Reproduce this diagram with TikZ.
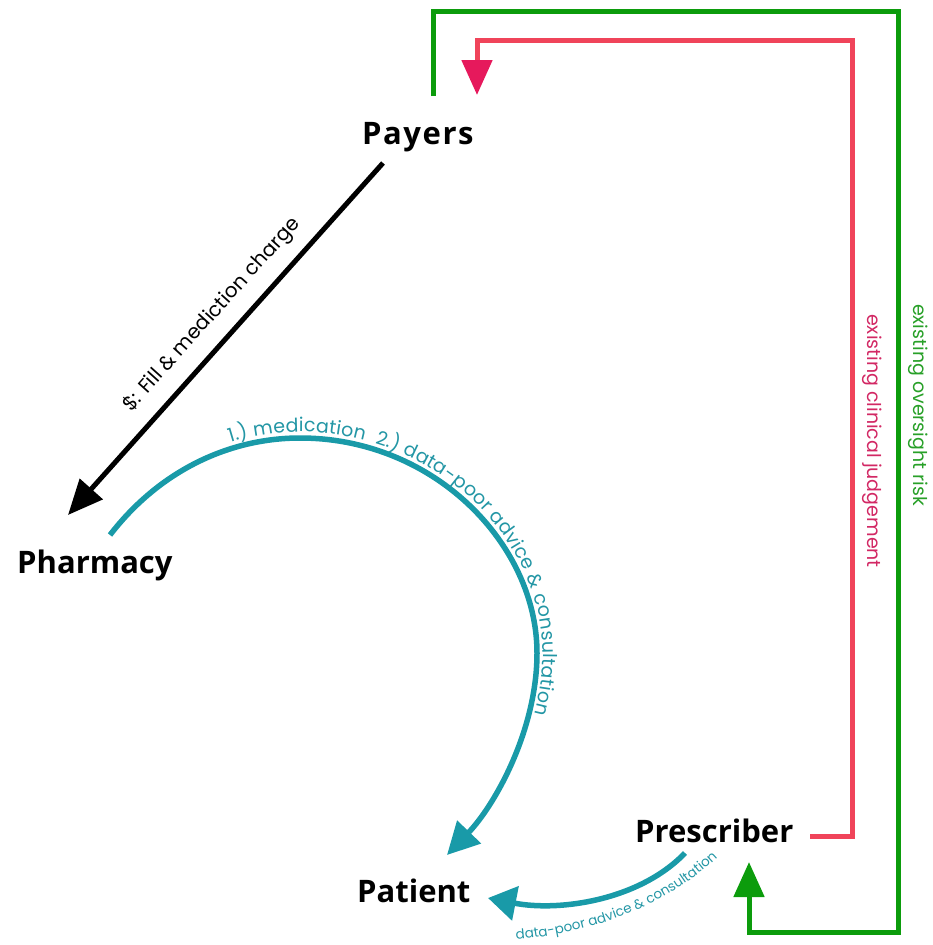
\documentclass[tikz,border=0pt]{standalone}
\usepackage{fontspec}
\setmainfont{Poppins}
\newfontfamily\nodefont{Open Sans}
\usetikzlibrary{arrows.meta,decorations.text}
\definecolor{greenl}{RGB}{12,156,12}
\definecolor{redl}{RGB}{240,68,90}
\definecolor{redtip}{RGB}{230,25,92}
\definecolor{teall}{RGB}{25,154,168}
\definecolor{teallab}{RGB}{35,150,165}
\definecolor{greenlab}{RGB}{40,160,40}
\definecolor{redlab}{RGB}{210,40,100}
\begin{document}
\begin{tikzpicture}[x=1pt,y=-1pt,
  actor/.style={font=\nodefont\bfseries\fontsize{31}{31}\selectfont, inner sep=0pt, anchor=base west},
  lab/.style={font=\fontsize{19}{19}\selectfont, inner sep=0pt},
  greenline/.style={draw=greenl, line width=5pt, -{Triangle[length=35pt,width=30pt]}},
  redline/.style={draw=redl, line width=5pt, -{Triangle[length=35pt,width=30pt,color=redtip]}},
  blackline/.style={draw=black, line width=5pt, -{Triangle[length=35pt,width=30pt]}},
  tealline/.style={draw=teall, line width=5.5pt, -{Triangle[length=32pt,width=32pt]}}
]
\useasboundingbox (0,0) rectangle (933,945);

% actors
\node[actor] (payers) at (362,144) {\addfontfeature{LetterSpace=5}Payers};
\node[actor] (pharmacy) at (17,573) {Pharmacy};
\node[actor] (patient) at (357,902) {Patient};
\node[actor] (prescriber) at (635,842) {Prescriber};

% end points
\coordinate (gS) at (433,96);
\coordinate (gE) at (749,862);
\coordinate (rS) at (810,836);
\coordinate (rE) at (477,95);
\coordinate (bS) at (383,163);
\coordinate (bE) at (68,515);
\coordinate (tS) at (110,535);
\coordinate (tE) at (447,855);
\coordinate (pS) at (685,853);
\coordinate (pE) at (488,898);

% green oversight loop
\draw[greenline] (gS) |- (898,11) |- (749,932) -- (gE);
% red clinical judgement loop
\draw[redline] (rS) -| (852,40) -| (rE);
% payers -> pharmacy
\draw[blackline] (bS) -- (bE);
\node[rotate=48, font=\fontsize{20}{20}\selectfont, inner sep=0pt] (blab) at (212,315) {\$: Fill \& mediction charge};

% pharmacy -> patient
\draw[tealline, postaction={decorate, decoration={text along path,
   text={|\fontsize{19}{19}\selectfont|1.) medication{\ }{\ }2.) data-poor advice {\&} consultation},
   text color=teallab, text align={left indent=152pt}, raise=6pt}}]
   (tS) .. controls (160,470) and (230,438) .. (300,438)
        .. controls (435,438) and (537,545) .. (537,653)
        .. controls (537,730) and (495,805) .. (tE);

% prescriber -> patient
\draw[tealline, -{Triangle[length=28pt,width=34pt]}] (pS) .. controls (640,900) and (560,912) .. (pE);
\path[decorate, decoration={text along path,
   text={|\fontsize{13.5}{13.5}\selectfont|data-poor advice {\&} consultation},
   text color=teallab, text align=center}]
   (503,941) .. controls (590,935) and (670,907) .. (727,848);

% side labels
\node[lab, rotate=-90, text=redlab] (rlab) at (872,441) {existing clinical judgement};
\node[lab, rotate=-90, text=greenlab] (glab) at (918,405) {existing oversight risk};
\end{tikzpicture}
\end{document}
